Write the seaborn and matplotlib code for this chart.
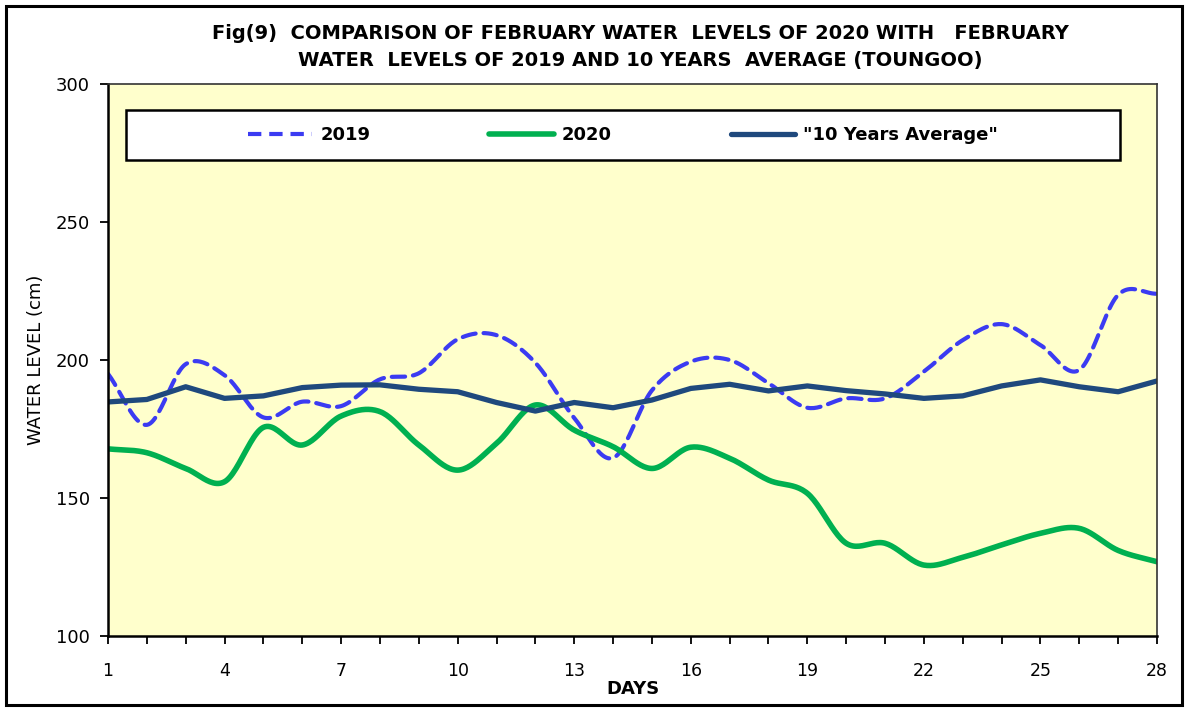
import numpy as np
import pandas as pd
import seaborn as sns
import matplotlib
matplotlib.use("Agg")
import matplotlib.pyplot as plt
from matplotlib.lines import Line2D
from matplotlib.patches import Rectangle

days = list(range(1, 29))
y2019 = [195, 176.5, 198.5, 194.5, 179.2, 184.9, 183.3, 193, 195.2, 207.5, 209, 199, 179, 164.5,
         189, 199.4, 200, 191.6, 182.7, 186.1, 186.1, 195.8, 207.2, 213, 205.4, 196.4, 223.6, 224]
y2020 = [167.8, 166.4, 160.7, 155.9, 175.6, 169.2, 179.7, 181.3, 169.2, 160.1, 169.8, 183.7, 174.6, 168.6,
         160.7, 168.4, 164.4, 156.5, 151.7, 133.6, 133.6, 125.7, 128.5, 133, 137.2, 139, 131, 126.9]
avg10 = [184.8, 185.7, 190.3, 186.1, 187, 190, 190.9, 191, 189.4, 188.5, 184.6, 181.5, 184.6, 182.7,
         185.5, 189.7, 191.2, 188.8, 190.6, 188.9, 187.7, 186.1, 187, 190.6, 192.8, 190.3, 188.5, 192.4]

series_labels = ["2019", "2020", '"10 Years Average"']
title = ("Fig(9)  COMPARISON OF FEBRUARY WATER  LEVELS OF 2020 WITH   FEBRUARY\n"
         "WATER  LEVELS OF 2019 AND 10 YEARS  AVERAGE (TOUNGOO)")


def smooth(x, y, n=24):
    """Catmull-Rom rendering of a smoothed line through the data points."""
    x = np.asarray(x, float)
    y = np.asarray(y, float)
    px = np.concatenate([[2 * x[0] - x[1]], x, [2 * x[-1] - x[-2]]])
    py = np.concatenate([[2 * y[0] - y[1]], y, [2 * y[-1] - y[-2]]])
    xs, ys = [], []
    for i in range(1, len(px) - 2):
        t = np.linspace(0, 1, n, endpoint=False)
        for arr, out in ((px, xs), (py, ys)):
            p0, p1, p2, p3 = arr[i - 1], arr[i], arr[i + 1], arr[i + 2]
            out.extend(0.5 * ((2 * p1) + (-p0 + p2) * t + (2 * p0 - 5 * p1 + 4 * p2 - p3) * t ** 2
                              + (-p0 + 3 * p1 - 3 * p2 + p3) * t ** 3))
    xs.append(x[-1])
    ys.append(y[-1])
    return np.array(xs), np.array(ys)


sns.set_theme(style="white")
plt.rcParams["font.family"] = ["DejaVu Sans"]
plt.rcParams["text.color"] = "black"
plt.rcParams["axes.labelcolor"] = "black"
plt.rcParams["xtick.color"] = "black"
plt.rcParams["ytick.color"] = "black"

fig = plt.figure(figsize=(11.88, 7.11), dpi=100)
ax = fig.add_axes([108 / 1188, 1 - 636 / 711, (1157 - 108) / 1188, (636 - 84) / 711])
ax.set_facecolor("#FFFFCC")

c2019 = "#3B3BF2"
c2020 = "#00B050"
cavg = "#1F497D"

sx, sy = smooth(days, y2019)
df19 = pd.DataFrame({"day": sx, "level": sy})
sns.lineplot(data=df19, x="day", y="level", ax=ax, color=c2019, linewidth=3.0, sort=False)
ax.lines[-1].set_dashes((3.2, 1.9))
ax.lines[-1].set_dash_capstyle("round")

sx, sy = smooth(days, y2020)
df20 = pd.DataFrame({"day": sx, "level": sy})
sns.lineplot(data=df20, x="day", y="level", ax=ax, color=c2020, linewidth=4.0, sort=False)

dfa = pd.DataFrame({"day": days, "level": avg10})
sns.lineplot(data=dfa, x="day", y="level", ax=ax, color=cavg, linewidth=3.8, sort=False)

ax.set_xlim(1, 28)
ax.set_ylim(100, 300)
ax.set_xticks(range(1, 29))
ax.set_xticklabels([str(d) if (d - 1) % 3 == 0 else "" for d in days], fontsize=12.5)
ax.set_yticks([100, 150, 200, 250, 300])
ax.set_yticklabels(["100", "150", "200", "250", "300"], fontsize=13)
ax.tick_params(axis="both", direction="out", length=6, width=1.3, color="black",
               labelcolor="black", bottom=True, left=True)
ax.tick_params(axis="x", pad=13)
ax.tick_params(axis="y", pad=7)
for s in ["left", "bottom"]:
    ax.spines[s].set_color("black")
    ax.spines[s].set_linewidth(1.8)
for s in ["top", "right"]:
    ax.spines[s].set_color("#333333")
    ax.spines[s].set_linewidth(1.2)

ax.set_xlabel("DAYS", fontsize=13, fontweight="bold", labelpad=0, color="black")
ax.set_ylabel("WATER LEVEL (cm)", fontsize=13, labelpad=8, color="black")

# legend box
box = Rectangle((126 / 1188, 1 - 160 / 711), (1120 - 126) / 1188, 50 / 711,
                transform=fig.transFigure, facecolor="white", edgecolor="black",
                linewidth=1.8, zorder=5)
fig.patches.append(box)

handles = [Line2D([], [], color=c2019, linewidth=3.0, dashes=(3.2, 1.9)),
           Line2D([], [], color=c2020, linewidth=4.0),
           Line2D([], [], color=cavg, linewidth=3.8)]
leg = fig.legend(handles, series_labels, loc="center", bbox_to_anchor=(623 / 1188, 1 - 135 / 711),
                 ncol=3, frameon=False, handlelength=3.55, handletextpad=0.45, columnspacing=6.6,
                 prop={"weight": "bold", "size": 13})
leg.set_zorder(6)
for t in leg.get_texts():
    t.set_color("black")

fig.text(640 / 1188, 1 - 47 / 711, title, ha="center", va="center", fontsize=14,
         fontweight="bold", linespacing=1.55, color="black")

# outer chart border
fig.patches.append(Rectangle((6 / 1188, 6 / 711), 1176 / 1188, 699 / 711, transform=fig.transFigure,
                             fill=False, edgecolor="black", linewidth=2.2))

fig.savefig("out.png", dpi=100, facecolor="white")
